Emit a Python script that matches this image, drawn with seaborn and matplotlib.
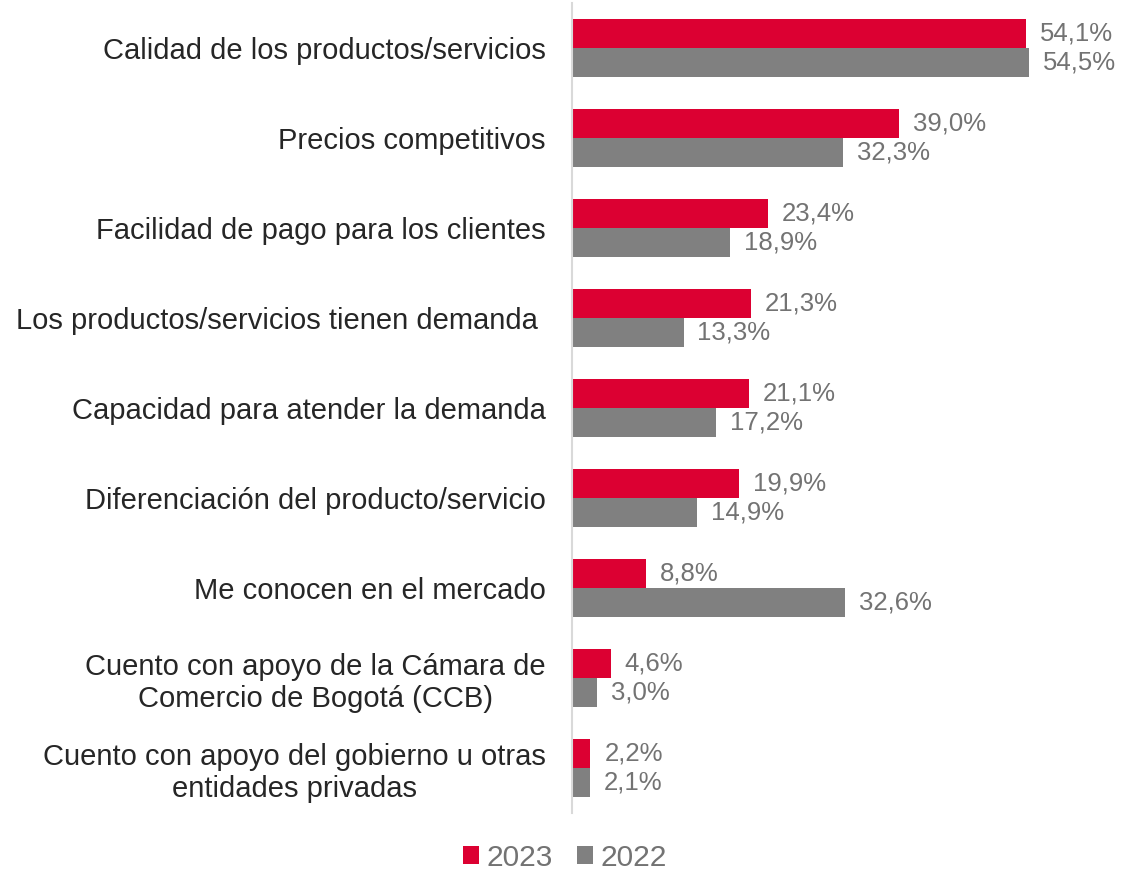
import matplotlib
matplotlib.use("Agg")
import matplotlib.pyplot as plt
import seaborn as sns
import pandas as pd
from matplotlib.patches import Patch

categories = [
    "Calidad de los productos/servicios",
    "Precios competitivos",
    "Facilidad de pago para los clientes",
    "Los productos/servicios tienen demanda ",
    "Capacidad para atender la demanda",
    "Diferenciación del producto/servicio",
    "Me conocen en el mercado",
    "Cuento con apoyo de la Cámara de\nComercio de Bogotá (CCB)",
    "Cuento con apoyo del gobierno u otras\nentidades privadas",
]
values_2023 = [54.1, 39.0, 23.4, 21.3, 21.1, 19.9, 8.8, 4.6, 2.2]
values_2022 = [54.5, 32.3, 18.9, 13.3, 17.2, 14.9, 32.6, 3.0, 2.1]
series = ["2023", "2022"]
colors = ["#DC0032", "#808080"]

df = pd.DataFrame({
    "cat": categories * 2,
    "val": values_2023 + values_2022,
    "year": [series[0]] * len(categories) + [series[1]] * len(categories),
})

sns.set_theme(style="white")
plt.rcParams["font.family"] = ["Liberation Sans", "DejaVu Sans"]

fig = plt.figure(figsize=(11.23, 8.72), dpi=100)
ax = fig.add_axes([572 / 1123, 59 / 872, 551 / 1123, 810 / 872])

sns.barplot(data=df, y="cat", x="val", hue="year", order=categories,
            hue_order=series, palette=colors, width=0.645, orient="h",
            saturation=1, ax=ax, legend=False, errorbar=None, linewidth=0)

for cont in ax.containers:
    labels = [f"{v:.1f}%".replace(".", ",") for v in cont.datavalues]
    ax.bar_label(cont, labels=labels, padding=10, fontsize=18.5, color="#737373")

ax.set_xlim(0, 551 / 8.385)
ax.set_ylim(len(categories) - 0.5, -0.5)
ax.set_xlabel("")
ax.set_ylabel("")
ax.set_xticks([])
ax.tick_params(axis="y", length=0, pad=19, labelsize=21, labelcolor="#262626")
for lab in ax.get_yticklabels():
    lab.set_multialignment("center")
for s in ["top", "right", "bottom"]:
    ax.spines[s].set_visible(False)
ax.spines["left"].set_color("#D9D9D9")
ax.spines["left"].set_linewidth(1.5)

handles = [Patch(facecolor=c, edgecolor="none") for c in colors]
fig.legend(handles, series, loc="center", bbox_to_anchor=(0.503, 1 - 858 / 872),
           ncol=2, frameon=False, fontsize=21.5, labelcolor="#737373",
           handlelength=0.55, handleheight=0.55, handletextpad=0.25,
           columnspacing=0.8)

fig.savefig("out.png", dpi=100)
